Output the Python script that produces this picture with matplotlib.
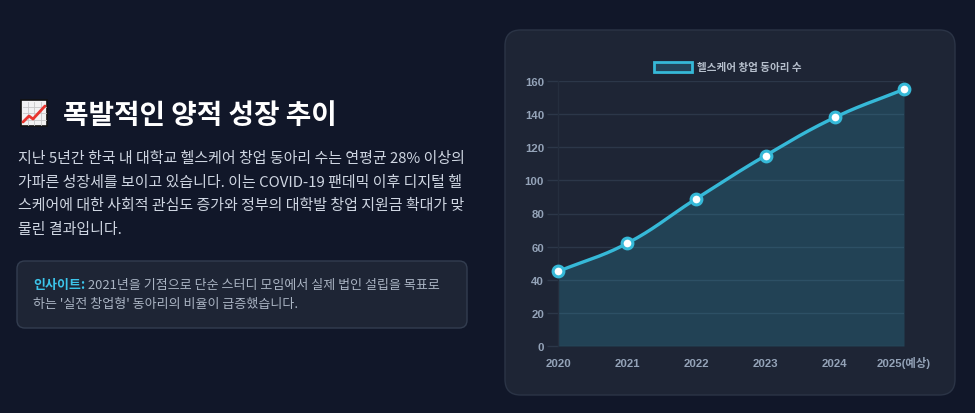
import matplotlib
matplotlib.use("Agg")
import matplotlib.pyplot as plt
from matplotlib.patches import FancyBboxPatch, Rectangle
from matplotlib.lines import Line2D
import numpy as np

# ---- data ----
years = ["2020", "2021", "2022", "2023", "2024", "2025(예상)"]
clubs = [45, 62, 89, 115, 138, 155]
y_ticks = [0, 20, 40, 60, 80, 100, 120, 140, 160]
series_label = "헬스케어 창업 동아리 수"
title_text = "폭발적인 양적 성장 추이"
body_lines = [
    "지난 5년간 한국 내 대학교 헬스케어 창업 동아리 수는 연평균 28% 이상의",
    "가파른 성장세를 보이고 있습니다. 이는 COVID-19 팬데믹 이후 디지털 헬",
    "스케어에 대한 사회적 관심도 증가와 정부의 대학발 창업 지원금 확대가 맞",
    "물린 결과입니다.",
]
insight_head = "인사이트:"
insight_lines = [
    " 2021년을 기점으로 단순 스터디 모임에서 실제 법인 설립을 목표로",
    "하는 '실전 창업형' 동아리의 비율이 급증했습니다.",
]

# ---- style ----
W, H = 975, 414
BG = "#111729"
PANEL = "#1e2535"
PANEL_EDGE = "#2b3446"
CYAN = "#36b9d8"
GRID = "#2c3749"
TICK = "#94a3b8"
KR = ["Noto Sans CJK KR", "DejaVu Sans"]
LAT = ["Liberation Sans", "Noto Sans CJK KR", "DejaVu Sans"]

fig = plt.figure(figsize=(W / 100, H / 100), dpi=100, facecolor=BG)

def fx(px):
    return px / W

def fy(py):
    return 1 - py / H

# chart panel
panel = FancyBboxPatch((fx(505), fy(396)), fx(955) - fx(505), fy(31) - fy(396),
                       boxstyle="round,pad=0,rounding_size=0.016",
                       transform=fig.transFigure, facecolor=PANEL,
                       edgecolor=PANEL_EDGE, linewidth=1.0, zorder=-2,
                       mutation_aspect=W / H)
fig.patches.append(panel)

# insight box
ibox = FancyBboxPatch((fx(17), fy(329)), fx(467) - fx(17), fy(262) - fy(329),
                      boxstyle="round,pad=0,rounding_size=0.008",
                      transform=fig.transFigure, facecolor=PANEL,
                      edgecolor="#333d50", linewidth=1.0, zorder=-2,
                      mutation_aspect=W / H)
fig.patches.append(ibox)

# emoji icon (chart increasing) drawn as shapes
ix0, iy0, isz = 21, 101, 26
fig.patches.append(Rectangle((fx(ix0), fy(iy0 + isz)), fx(isz), isz / H,
                             transform=fig.transFigure, facecolor="#f2f2f2",
                             edgecolor="#111111", linewidth=1.2, zorder=2))
for k in range(1, 4):
    gx = ix0 + isz * k / 4
    gy = iy0 + isz * k / 4
    fig.lines.append(Line2D([fx(gx), fx(gx)], [fy(iy0 + 1.5), fy(iy0 + isz - 1.5)],
                            transform=fig.transFigure, color="#c8c8c8", lw=0.6, zorder=3))
    fig.lines.append(Line2D([fx(ix0 + 1.5), fx(ix0 + isz - 1.5)], [fy(gy), fy(gy)],
                            transform=fig.transFigure, color="#c8c8c8", lw=0.6, zorder=3))
lx = [ix0 + 2, ix0 + 8, ix0 + 12, ix0 + 24]
ly = [iy0 + 22, iy0 + 16, iy0 + 19, iy0 + 6]
fig.lines.append(Line2D([fx(v) for v in lx], [fy(v) for v in ly],
                        transform=fig.transFigure, color="#e8352e", lw=2.0, zorder=4,
                        solid_capstyle="round", solid_joinstyle="round"))

# title
fig.text(fx(63), fy(124), title_text, family=KR, fontsize=20, fontweight="bold",
         color="white", va="baseline", ha="left")

# body text
for i, line in enumerate(body_lines):
    fig.text(fx(18), fy(163 + i * 23.7), line, family=KR, fontsize=10.75,
             color="#cfd6e2", va="baseline", ha="left")

# insight text
t_head = fig.text(fx(33), fy(289), insight_head, family=KR, fontsize=9.35,
                  fontweight="bold", color="#3cc4ea", va="baseline", ha="left")
fig.canvas.draw()
bb = t_head.get_window_extent(renderer=fig.canvas.get_renderer())
fig.text(bb.x1 / W, fy(289), insight_lines[0], family=KR, fontsize=9.35,
         color="#aab4c3", va="baseline", ha="left")
fig.text(fx(33), fy(308), insight_lines[1], family=KR, fontsize=9.35,
         color="#aab4c3", va="baseline", ha="left")

# ---- chart ----
ax = fig.add_axes([fx(558), fy(347), fx(904) - fx(558), fy(82) - fy(347)])
ax.set_zorder(1)
ax.set_facecolor("none")
x = np.arange(len(years))
y = np.array(clubs, dtype=float)

# chart.js-like bezier smoothing (tension 0.4) in pixel-ish space
sx = (904 - 558) / (len(years) - 1)
sy = (347 - 82) / 160.0
P = np.column_stack([x * sx, y * sy])
t = 0.4
cps = []
for i in range(len(P)):
    prev = P[i - 1] if i > 0 else P[i]
    nxt = P[i + 1] if i < len(P) - 1 else P[i]
    d01 = np.hypot(*(P[i] - prev))
    d12 = np.hypot(*(nxt - P[i]))
    s = d01 + d12 if (d01 + d12) > 0 else 1
    fa = t * d01 / s
    fb = t * d12 / s
    cps.append((P[i] - fa * (nxt - prev), P[i] + fb * (nxt - prev)))
curve = []
tt = np.linspace(0, 1, 40)
for i in range(len(P) - 1):
    p0, p3 = P[i], P[i + 1]
    p1, p2 = cps[i][1], cps[i + 1][0]
    seg = ((1 - tt) ** 3)[:, None] * p0 + (3 * (1 - tt) ** 2 * tt)[:, None] * p1 \
        + (3 * (1 - tt) * tt ** 2)[:, None] * p2 + (tt ** 3)[:, None] * p3
    curve.append(seg if i == 0 else seg[1:])
curve = np.vstack(curve)
cx, cy = curve[:, 0] / sx, curve[:, 1] / sy

ax.fill_between(cx, 0, cy, color=CYAN, alpha=0.2, linewidth=0, zorder=2,
                label=series_label)
ax.plot(cx, cy, color=CYAN, lw=2.4, zorder=3, solid_capstyle="round", clip_on=False)
ax.scatter(x, y, s=60, facecolor="white", edgecolor=CYAN, linewidth=2.2, zorder=4,
           clip_on=False)

ax.set_xlim(0, len(years) - 1)
ax.set_ylim(0, 160)
ax.set_yticks(y_ticks)
ax.set_xticks(x)
ax.set_xticklabels(years)
ax.grid(axis="y", color=GRID, lw=1.0, zorder=0)
ax.set_axisbelow(True)
for sp in ["top", "right", "bottom"]:
    ax.spines[sp].set_visible(False)
ax.spines["left"].set_color("#252e3e")
ax.spines["left"].set_linewidth(1.0)
ax.tick_params(axis="y", length=8, width=1.0, color=GRID, pad=2,
               labelcolor=TICK, labelsize=8.2)
ax.tick_params(axis="x", length=0, pad=14.5, labelcolor=TICK, labelsize=8.2)
for lab in ax.get_xticklabels() + ax.get_yticklabels():
    lab.set_family(LAT)
    lab.set_fontweight("bold")
for lab in ax.get_xticklabels():
    lab.set_verticalalignment("baseline")

# legend (drawn manually in figure coords)
fig.patches.append(Rectangle((fx(654), fy(73)), fx(38), 10 / H,
                             transform=fig.transFigure, facecolor="#23445a",
                             edgecolor=CYAN, linewidth=2.0, zorder=5))
fig.text(fx(697), fy(68), series_label, family=KR, fontsize=7.6, fontweight="bold",
         color="#b6bfcc", va="center", ha="left")

fig.savefig("out.png", dpi=100, facecolor=BG)
